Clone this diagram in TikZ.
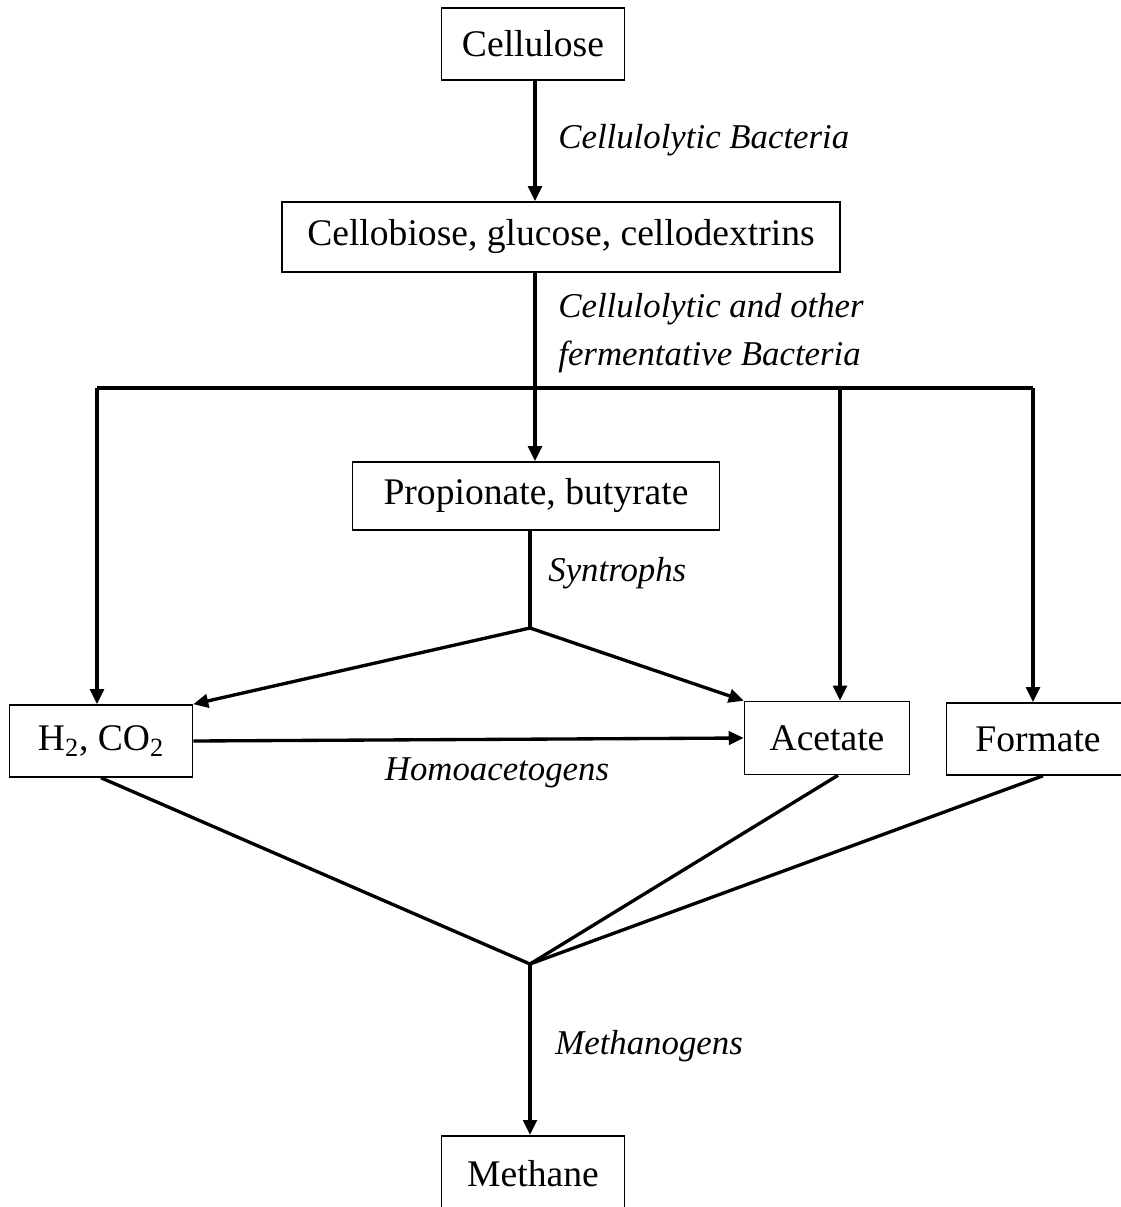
\documentclass[tikz,border=0pt]{standalone}
\usepackage{fontspec}
\setmainfont{Liberation Serif}
\usetikzlibrary{arrows.meta}

\tikzset{
  box/.style={draw, line width=0.9pt, inner sep=0pt, align=center},
  flow/.style={line width=1.9pt},
  arr/.style={flow, -{Triangle[length=0.3cm, width=0.27cm]}},
  lab/.style={anchor=west, inner sep=0pt, font=\fontsize{19.8}{27.3}\selectfont\itshape}
}

\begin{document}
\begin{tikzpicture}[x=0.02cm, y=-0.02cm, font=\fontsize{21.4}{27}\selectfont]

\useasboundingbox (0,0) rectangle (1121,1207);
\clip (0,0) rectangle (1121,1207);

% Boxes
\node[box, minimum width=3.66cm, minimum height=1.44cm] (cell) at (533,44) {Cellulose};
\node[box, minimum width=11.16cm, minimum height=1.4cm] (cello) at (561,237) {Cellobiose, glucose, cellodextrins};
\node[box, minimum width=7.34cm, minimum height=1.36cm] (prop) at (536,496) {Propionate, butyrate};
\node[box, minimum width=3.66cm, minimum height=1.44cm] (h2) at (101,741) {H\textsubscript{2}, CO\textsubscript{2}};
\node[box, minimum width=3.3cm, minimum height=1.46cm] (acet) at (827,738) {Acetate};
\node[box, minimum width=3.66cm, minimum height=1.44cm, text width=3.58cm] (form) at (1038,739) {Formate};
\node[box, minimum width=3.66cm, minimum height=1.7cm, anchor=north] (meth) at (533,1135) {\raisebox{0.2cm}{Methane}};

% Junctions
\coordinate (bl) at (97,388);
\coordinate (ba) at (840,388);
\coordinate (br) at (1033,388);
\coordinate (syn) at (530,628);
\coordinate (me) at (530,964);

% Cellulose to sugars
\draw[arr] (cell.south -| 535,0) -- (cello.north -| 535,0);
\node[lab] (l1) at (558,140) {Cellulolytic Bacteria};

% Fermentation
\draw[arr] (cello.south -| 535,0) -- (prop.north -| 535,0);
\draw[flow] (bl) -- (br);
\draw[arr] (bl) -- (bl |- h2.north);
\draw[arr] (ba) -- (ba |- acet.north);
\draw[arr] (br) -- (br |- form.north);
\node[lab, align=left] (l2) at (558,333) {Cellulolytic and other\\fermentative Bacteria};

% Syntrophs
\draw[flow] (prop.south -| syn) -- (syn);
\draw[arr] (syn) -- (h2.north east);
\draw[arr] (syn) -- (acet.north west);
\node[lab] (l3) at (548,573) {Syntrophs};

% Homoacetogens
\draw[arr] (h2.east) -- (acet.west);
\node[lab, anchor=center] (l4) at (497,773) {Homoacetogens};

% Methanogens
\draw[flow] (h2.south) -- (me);
\draw[flow] (acet.south -| 838,0) -- (me);
\draw[flow] (form.south -| 1043,0) -- (me);
\draw[arr] (me) -- (meth.north -| me);
\node[lab] (l5) at (555,1046) {Methanogens};

\end{tikzpicture}
\end{document}
